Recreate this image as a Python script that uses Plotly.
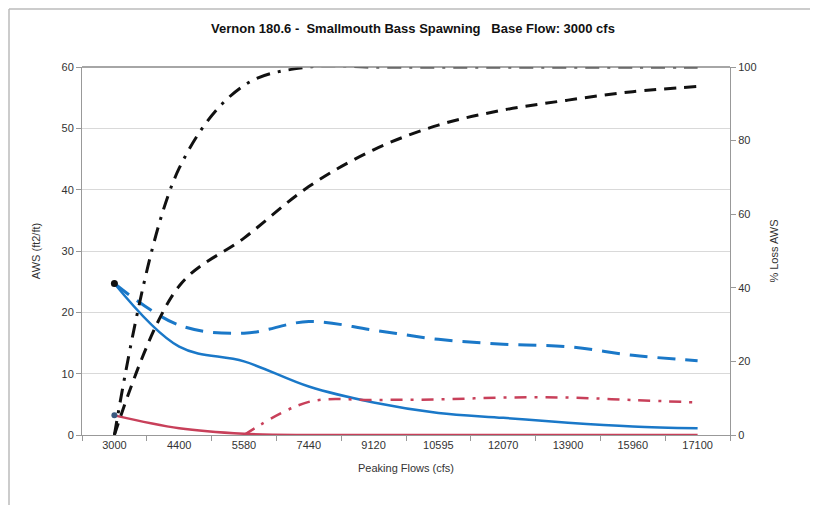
"""Vernon 180.6 - Smallmouth Bass Spawning, AWS and % loss vs peaking flow."""
import plotly.graph_objects as go

flows = ["3000", "4400", "5580", "7440", "9120", "10595", "12070", "13900", "15960", "17100"]

# AWS (ft2/ft), left axis
aws_peak = [24.7, 14.4, 12.0, 7.9, 5.3, 3.6, 2.8, 2.0, 1.4, 1.1]
aws_base = [24.7, 17.9, 16.6, 18.5, 17.1, 15.6, 14.8, 14.4, 13.0, 12.1]
aws_red = [3.2, 1.1, 0.2, 0.0, 0.0, 0.0, 0.0, 0.0, 0.0, 0.0]
aws_red2 = [None, None, 0.0, 5.4, 5.7, 5.8, 6.1, 6.1, 5.7, 5.3]

# % loss AWS, right axis
loss_peak = [0, 40.5, 53.5, 67.5, 77.5, 84.2, 88.3, 91.0, 93.3, 94.7]
loss_red = [0, 72.5, 95, 100, 100, 100, 100, 100, 100, 100]

BLUE = "#1a78c8"
RED = "#c8405a"
BLACK = "#111111"

fig = go.Figure()
fig.add_trace(go.Scatter(x=flows, y=aws_base, mode="lines", line=dict(color=BLUE, width=3, dash="18px,10px", shape="spline")))
fig.add_trace(go.Scatter(x=flows, y=aws_peak, mode="lines", line=dict(color=BLUE, width=2.5, shape="spline")))
fig.add_trace(go.Scatter(x=flows, y=aws_red2, mode="lines", line=dict(color=RED, width=2.5, dash="12px,8px,3px,8px", shape="spline")))
fig.add_trace(go.Scatter(x=flows, y=aws_red, mode="lines", line=dict(color=RED, width=2.5, shape="spline")))
fig.add_trace(go.Scatter(x=flows, y=loss_peak, mode="lines", yaxis="y2",
                         line=dict(color=BLACK, width=3, dash="12px,8px", shape="spline")))
fig.add_trace(go.Scatter(x=flows, y=loss_red, mode="lines", yaxis="y2",
                         line=dict(color=BLACK, width=3, dash="14px,8px,3px,8px", shape="spline")))
# first-point markers
fig.add_trace(go.Scatter(x=[flows[0]], y=[aws_peak[0]], mode="markers", marker=dict(color=BLACK, size=7)))
fig.add_trace(go.Scatter(x=[flows[0]], y=[aws_red[0]], mode="markers", marker=dict(color="#3a5a80", size=6)))

# page body adds an 8px offset, so the figure is 810x497 and margins are shifted
L, R, T, B = 74, 88, 59, 70
W, H = 810, 497
pw, ph = W - L - R, H - T - B

font = "Liberation Sans, Arial, sans-serif"
fig.update_layout(
    width=W, height=H,
    margin=dict(l=L, r=R, t=T, b=B),
    paper_bgcolor="white", plot_bgcolor="white",
    showlegend=False,
    font=dict(family=font, size=11, color="#333"),
    title=dict(text="<b>Vernon 180.6 -  Smallmouth Bass Spawning   Base Flow: 3000 cfs</b>",
               x=0.5, xanchor="center", y=1 - 20 / H, yanchor="middle", font=dict(size=13, color="#111")),
    xaxis=dict(type="category", tickson="boundaries", ticks="outside", ticklen=5, tickcolor="#999",
               showline=True, linecolor="#999", showgrid=False,
               title=dict(text="Peaking Flows (cfs)", standoff=14, font=dict(size=11)),
               tickfont=dict(size=11), range=[-0.5, 9.5]),
    yaxis=dict(range=[0, 60], dtick=10, showline=True, linecolor="#999", ticks="outside", ticklen=5,
               tickcolor="#999", gridcolor="#d9d9d9", zeroline=False,
               title=dict(text="AWS (ft2/ft)", standoff=18, font=dict(size=11))),
    yaxis2=dict(range=[0, 100], dtick=20, overlaying="y", side="right", showline=True, linecolor="#999",
                ticks="outside", ticklen=5, tickcolor="#999", showgrid=False, zeroline=False,
                title=dict(text="% Loss AWS", standoff=14, font=dict(size=11))),
)
# top border of plot area
fig.add_shape(type="line", xref="paper", yref="paper", x0=0, x1=1, y0=1, y1=1, line=dict(color="#888", width=1.5))
# outer chart frame: only the left and top edges show in the picture
x_left = -(L - 1) / pw
y_top = 1 + (T - 1) / ph
fig.add_shape(type="line", xref="paper", yref="paper", x0=x_left, x1=x_left, y0=-(B + 5) / ph, y1=y_top,
              line=dict(color="#bbb", width=1.5))
fig.add_shape(type="line", xref="paper", yref="paper", x0=x_left, x1=1 + (R + 5) / pw, y0=y_top, y1=y_top,
              line=dict(color="#bbb", width=1.5))

fig.write_html("out.html")
